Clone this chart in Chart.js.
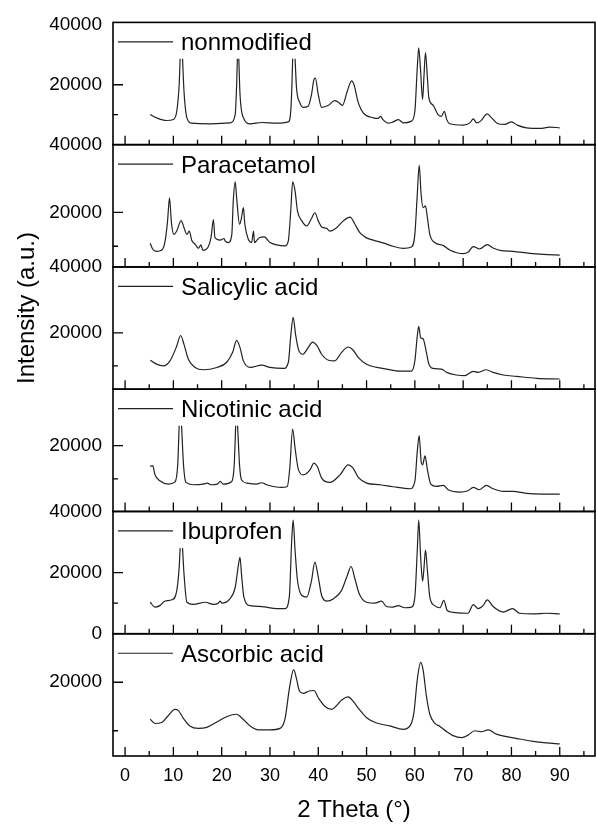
<!DOCTYPE html>
<html>
<head>
<meta charset="utf-8">
<script src="https://cdn.jsdelivr.net/npm/chart.js@4.4.1/dist/chart.umd.min.js"></script>
<style>
  html, body { margin: 0; padding: 0; background: #fff; }
  #wrap { position: relative; width: 597px; height: 825px; }
</style>
</head>
<body>
<div id="wrap"><canvas id="xrd"></canvas></div>
<script>
// sample names, top to bottom
const labels = ['nonmodified', 'Paracetamol', 'Salicylic acid', 'Nicotinic acid', 'Ibuprofen', 'Ascorbic acid']

// [2 theta, intensity]; null = clipped peak top
const nonmodified = [[5.2,10000],[6.5,8900],[8.6,8000],[10.0,8330],[10.7,11100],[11.2,20000],[11.4,28700],[11.65,null],[11.9,28700],[12.2,17800],[12.8,8900],[13.8,7100],[17.6,6900],[21.7,7200],[22.8,10000],[23.1,20000],[23.25,28700],[23.4,null],[23.55,28700],[23.8,16700],[24.5,8900],[25.9,6900],[28.3,7330],[31.4,7100],[33.8,7550],[34.3,11100],[34.55,20000],[34.7,28700],[34.95,null],[35.2,28700],[35.5,18900],[36.2,13900],[36.9,12400],[37.9,12800],[38.6,16700],[39.1,21700],[39.4,22200],[40.0,16700],[40.7,12400],[42.1,13100],[43.4,14700],[44.1,14200],[45.0,13100],[46.0,17800],[46.9,21300],[47.4,20000],[48.3,13900],[49.3,10600],[51.4,8900],[52.4,8700],[52.9,9400],[53.4,8300],[54.5,7100],[55.5,7550],[56.6,8300],[57.6,7200],[59.3,7800],[60.0,11100],[60.5,25600],[60.8,32400],[61.2,24400],[61.6,15000],[61.9,23300],[62.2,30800],[62.6,22200],[62.9,15600],[63.8,13100],[64.8,10000],[65.5,9400],[66.1,11100],[66.6,8300],[67.2,6900],[70.0,6450],[71.4,7200],[72.1,8550],[72.8,7200],[73.6,7800],[75.0,10200],[75.9,8900],[77.2,6900],[78.6,6700],[80.0,7550],[81.2,6450],[83.1,5560],[85.9,5330],[87.9,5780],[90.0,5560]]

const paracetamol = [[5.2,10900],[5.7,9200],[6.5,8500],[7.6,8900],[8.3,11600],[8.8,17500],[9.2,24300],[9.6,17000],[10.1,13500],[10.7,14500],[11.6,17600],[12.2,15500],[12.8,13500],[13.3,14500],[13.8,11800],[14.5,10600],[15.2,9400],[15.7,10400],[16.1,8800],[17.2,9800],[17.8,12600],[18.3,17900],[18.6,12600],[19.7,11800],[20.5,12300],[20.7,11600],[21.4,11100],[22.1,13500],[22.4,23300],[22.8,29000],[23.1,24300],[23.7,16500],[24.1,18400],[24.5,21400],[24.8,16500],[25.5,12100],[26.2,11100],[26.6,14500],[26.8,11100],[27.2,11600],[27.9,12600],[28.8,12800],[30.0,11100],[31.4,10400],[33.1,10100],[33.8,11600],[34.3,20400],[34.7,29000],[35.2,26300],[35.7,20400],[36.6,17500],[37.6,16000],[38.6,18200],[39.3,19900],[40.0,17500],[40.7,15700],[41.7,15300],[42.4,14500],[43.8,15500],[45.2,17500],[46.6,18600],[47.6,16500],[48.6,14000],[49.7,12700],[51.4,11800],[53.4,11000],[55.5,10000],[57.6,9400],[59.3,9800],[60.0,13500],[60.5,25300],[60.9,33900],[61.3,25300],[61.7,21400],[62.2,21900],[62.6,18400],[63.1,13500],[64.1,11100],[65.9,10200],[67.2,8900],[70.0,7800],[71.0,8200],[72.1,9900],[73.4,9200],[75.0,10500],[76.2,9500],[77.9,8700],[80.3,8500],[83.8,7900],[86.6,7600],[90.0,7400]]

const salicylic = [[5.2,11700],[6.5,10500],[7.9,10000],[9.3,11500],[10.7,16000],[11.5,19200],[12.2,16500],[13.1,12000],[14.5,9500],[16.2,8800],[19.0,9500],[21.0,11000],[22.3,14200],[23.1,17700],[23.8,15500],[24.5,11500],[25.9,9500],[28.3,10200],[30.0,9500],[32.8,9200],[33.8,11000],[34.3,19000],[34.8,24700],[35.3,19500],[35.9,15000],[36.8,13500],[37.9,15500],[38.8,17200],[39.7,16200],[40.7,13500],[42.1,11700],[43.4,11500],[44.8,14000],[46.2,15700],[47.2,14800],[48.3,12500],[50.0,10500],[52.1,9500],[54.1,9000],[56.9,8400],[59.3,8400],[60.0,11500],[60.5,19000],[60.8,22000],[61.2,18500],[61.7,18200],[62.4,14000],[62.9,10500],[63.8,9200],[65.5,9000],[66.6,8000],[68.6,7200],[70.3,7000],[72.1,8300],[73.1,8000],[74.8,8800],[76.2,8000],[78.3,7200],[81.0,6800],[85.2,6200],[90.0,6000]]

const nicotinic = [[5.2,13700],[5.7,14000],[6.2,11200],[7.2,9400],[9.0,8400],[10.3,9000],[10.9,14200],[11.2,26000],[11.45,null],[11.7,26000],[12.1,14200],[12.6,8900],[14.1,8200],[16.2,8400],[17.0,8700],[17.9,8200],[19.1,8400],[19.7,9200],[20.3,8400],[22.1,9200],[22.6,14200],[22.9,26000],[23.1,null],[23.3,26000],[23.7,14200],[24.1,9700],[25.2,8700],[27.2,8400],[28.3,8800],[29.3,8200],[32.4,7400],[33.6,7700],[34.1,13200],[34.7,25000],[35.2,19200],[35.9,12700],[36.9,11200],[38.3,12700],[39.1,14700],[39.8,13700],[40.7,10200],[42.4,8900],[44.5,11200],[46.2,14200],[47.2,13200],[48.3,10400],[50.0,8700],[52.8,8200],[55.5,7600],[59.0,7000],[60.0,9200],[60.5,18200],[60.9,23000],[61.3,15200],[61.6,14200],[62.1,16900],[62.6,12700],[63.3,8400],[64.5,7700],[65.9,8000],[66.9,6700],[69.3,6000],[71.0,6400],[72.1,7400],[73.3,6700],[74.8,8000],[76.2,7000],[78.3,6200],[80.3,6200],[83.1,5600],[86.6,5400],[90.0,5400]]

const ibuprofen = [[5.2,10300],[6.2,8700],[7.2,9200],[8.3,10700],[9.7,11100],[10.7,14100],[11.2,21700],[11.4,28000],[11.65,null],[11.9,28000],[12.2,19600],[12.8,10300],[14.1,9600],[16.6,10300],[18.3,9600],[19.3,10000],[19.7,10700],[20.0,10000],[21.7,11400],[22.8,15200],[23.5,22800],[23.8,25000],[24.1,19600],[24.6,12000],[25.9,9200],[28.3,8900],[31.4,8200],[33.1,8200],[34.0,12000],[34.5,30400],[34.8,37200],[35.2,27200],[35.7,17400],[36.6,12500],[37.6,12000],[38.6,17400],[39.3,23400],[40.0,18500],[40.7,12500],[41.7,10700],[43.1,11400],[44.8,14100],[46.0,19000],[46.8,22000],[47.6,17900],[48.5,13000],[50.0,10300],[51.7,10000],[53.1,10700],[54.1,8900],[55.4,8700],[56.6,9200],[57.9,8500],[59.3,8700],[60.0,12000],[60.5,27200],[60.8,37200],[61.2,25000],[61.6,17200],[61.9,21700],[62.2,27400],[62.6,20700],[63.1,12000],[64.1,9200],[65.2,8500],[66.0,10900],[66.7,7600],[67.9,7000],[71.0,6700],[72.1,9500],[73.1,8200],[74.1,9200],[75.0,11100],[76.2,8900],[78.3,7100],[80.2,8200],[81.7,6700],[84.5,6500],[87.2,6700],[90.0,6500]]

const ascorbic = [[5.2,12400],[6.2,11500],[7.6,11700],[9.0,13200],[10.3,14400],[11.0,14200],[12.1,12500],[13.4,11000],[15.2,10500],[16.9,10700],[19.0,11800],[21.0,12900],[23.1,13400],[24.1,12700],[25.9,11000],[27.6,10200],[30.0,10200],[32.1,10500],[33.1,12400],[34.1,19200],[34.9,22600],[35.5,20700],[36.1,18200],[36.9,17700],[38.1,18200],[39.1,18300],[40.0,16800],[41.4,15000],[42.8,14400],[43.8,15200],[44.8,16300],[46.2,17000],[47.2,16100],[48.5,14400],[50.0,12700],[52.1,11600],[54.8,11000],[57.6,10300],[59.0,11000],[59.8,13700],[60.5,20500],[61.2,24100],[61.7,22600],[62.4,17100],[63.1,13400],[64.1,11600],[65.2,10900],[66.6,9800],[67.9,9000],[69.7,8600],[71.0,9100],[72.4,10000],[73.8,9800],[75.2,10200],[76.9,9300],[79.0,8800],[81.7,8300],[84.5,7800],[87.2,7500],[90.0,7300]]

const series = [nonmodified, paracetamol, salicylic, nicotinic, ibuprofen, ascorbic]

// per panel y range and labelled ticks
const yMin = [-100, 3900, 2900, 150, 0, 4800]
const yMax = [40900, 40000, 40000, 37000, 40000, 30000]
const yTickLabels = [[20000, 40000], [20000, 40000], [20000, 40000], [20000], [0, 20000, 40000], [20000]]
const yMajorMarks = [20000]
const yMinorMarks = [10000]

const xTicks = [0, 10, 20, 30, 40, 50, 60, 70, 80, 90]
const xMinorTicks = [5, 15, 25, 35, 45, 55, 65, 75, 85, 95]

const FONT = 'Liberation Sans, Arial, sans-serif'
const INK = '#000'
const LINE = '#222'

const scales = {
  x: {
    type: 'linear',
    position: 'bottom',
    min: -2.5,
    max: 97.3,
    afterBuildTicks: (s) => { s.ticks = xTicks.map(v => ({ value: v })) },
    afterFit: (s) => { s.height = 69 },
    ticks: { color: INK, font: { family: FONT, size: 18 }, padding: 9, maxRotation: 0 },
    grid: { display: false, drawTicks: false },
    border: { display: false },
    title: { display: true, text: '2 Theta (°)', color: INK, font: { family: FONT, size: 24 }, padding: 0 }
  }
}

labels.forEach((name, i) => {
  scales['y' + i] = {
    type: 'linear',
    position: 'left',
    stack: 'xrd',
    stackWeight: 1,
    weight: labels.length - i,
    min: yMin[i],
    max: yMax[i],
    afterBuildTicks: (s) => { s.ticks = yTickLabels[i].map(v => ({ value: v })) },
    afterFit: (s) => { s.width = 113 },
    ticks: { color: INK, font: { family: FONT, size: 19 }, padding: 11, callback: (v) => String(v) },
    grid: { display: false, drawTicks: false },
    border: { display: false }
  }
})

// frames, inward ticks, in-panel legends and the y title
const panelDecor = {
  id: 'panelDecor',
  afterDraw(chart) {
    const { ctx, chartArea: area, scales: sc } = chart
    const x = sc.x
    ctx.save()
    labels.forEach((name, i) => {
      const y = sc['y' + i]
      ctx.strokeStyle = INK
      ctx.lineWidth = 1.6
      ctx.strokeRect(area.left, y.top, area.right - area.left, y.bottom - y.top)

      ctx.lineWidth = 1.3
      ctx.beginPath()
      xTicks.forEach(v => {
        const px = x.getPixelForValue(v)
        ctx.moveTo(px, y.bottom); ctx.lineTo(px, y.bottom - 9)
      })
      xMinorTicks.forEach(v => {
        const px = x.getPixelForValue(v)
        ctx.moveTo(px, y.bottom); ctx.lineTo(px, y.bottom - 5)
      })
      yMajorMarks.forEach(v => {
        const py = y.getPixelForValue(v)
        ctx.moveTo(area.left, py); ctx.lineTo(area.left + 10, py)
      })
      yMinorMarks.forEach(v => {
        const py = y.getPixelForValue(v)
        ctx.moveTo(area.left, py); ctx.lineTo(area.left + 5, py)
      })
      ctx.stroke()

      // legend entry
      ctx.strokeStyle = LINE
      ctx.lineWidth = 1.2
      ctx.beginPath()
      ctx.moveTo(118, y.top + 19.5); ctx.lineTo(173, y.top + 19.5)
      ctx.stroke()
      ctx.fillStyle = INK
      ctx.font = '24px ' + FONT
      ctx.textAlign = 'left'
      ctx.textBaseline = 'alphabetic'
      ctx.fillText(name, 181, y.top + 28)
    })

    ctx.translate(27, 308)
    ctx.rotate(-Math.PI / 2)
    ctx.textAlign = 'center'
    ctx.textBaseline = 'middle'
    ctx.font = '24px ' + FONT
    ctx.fillStyle = INK
    ctx.fillText('Intensity (a.u.)', 0, 0)
    ctx.restore()
  }
}

new Chart(document.getElementById('xrd'), {
  type: 'line',
  data: {
    datasets: series.map((pts, i) => ({
      label: labels[i],
      data: pts,
      yAxisID: 'y' + i,
      borderColor: LINE,
      borderWidth: 1.2,
      pointRadius: 0,
      cubicInterpolationMode: 'monotone',
      spanGaps: false
    }))
  },
  options: {
    responsive: true,
    maintainAspectRatio: false,
    animation: false,
    layout: { padding: { top: 18, right: 2, left: 0, bottom: 0 } },
    plugins: { legend: { display: false }, tooltip: { enabled: false } },
    scales: scales
  },
  plugins: [panelDecor]
})
</script>
</body>
</html>
